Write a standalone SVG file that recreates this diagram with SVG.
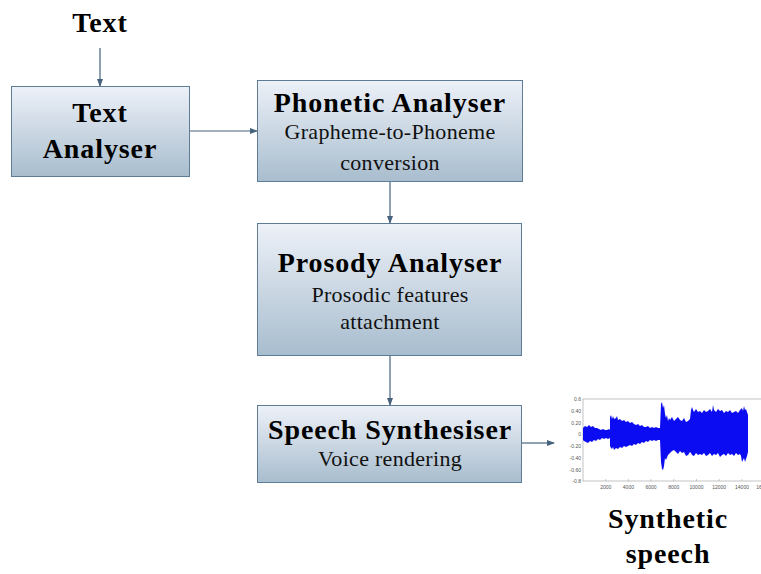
<svg xmlns="http://www.w3.org/2000/svg" width="761" height="574" viewBox="0 0 761 574">
<defs>
<linearGradient id="boxg" x1="0" y1="0" x2="0" y2="1">
<stop offset="0" stop-color="#edf1f8"/>
<stop offset="1" stop-color="#a8bdce"/>
</linearGradient>
<marker id="ah" markerWidth="8" markerHeight="6" refX="7" refY="3" orient="auto" markerUnits="userSpaceOnUse">
<path d="M0,0 L8,3 L0,6 Z" fill="#46637d"/>
</marker>
</defs>
<style>
.box{fill:url(#boxg);stroke:#5f7c96;stroke-width:1}
.t{font-family:"Liberation Serif","Times New Roman",serif;font-weight:bold;font-size:28px;fill:#000;text-anchor:middle;letter-spacing:0.9px}
.s{font-family:"Liberation Serif","Times New Roman",serif;font-size:22px;fill:#111;text-anchor:middle;letter-spacing:0.3px}
.c{stroke:#46637d;stroke-width:1.2;fill:none;marker-end:url(#ah)}
.ax{font-family:"Liberation Sans",Arial,sans-serif;font-size:5px;fill:#555}
</style>
<rect width="761" height="574" fill="#fff"/>
<text class="t" x="100" y="32">Text</text>
<g id="connectors">
<line class="c" x1="100" y1="48" x2="100" y2="86"/>
<line class="c" x1="190" y1="131" x2="257" y2="131"/>
<line class="c" x1="390" y1="182" x2="390" y2="223"/>
<line class="c" x1="390" y1="356" x2="390" y2="405"/>
<line class="c" x1="522" y1="443" x2="554" y2="443"/>
</g>
<g id="text-analyser">
<rect class="box" x="11.5" y="86.5" width="178" height="90"/>
<text class="t" x="100" y="122">Text</text>
<text class="t" x="100" y="158">Analyser</text>
</g>
<g id="phonetic-analyser">
<rect class="box" x="257.5" y="80.5" width="265" height="101"/>
<text class="t" x="390" y="112">Phonetic Analyser</text>
<text class="s" x="390" y="139">Grapheme-to-Phoneme</text>
<text class="s" x="390" y="170">conversion</text>
</g>
<g id="prosody-analyser">
<rect class="box" x="257.5" y="223.5" width="264" height="132"/>
<text class="t" x="390" y="272">Prosody Analyser</text>
<text class="s" x="390" y="302">Prosodic features</text>
<text class="s" x="390" y="329">attachment</text>
</g>
<g id="speech-synthesiser">
<rect class="box" x="257.5" y="405.5" width="264" height="77"/>
<text class="t" x="390" y="439">Speech Synthesiser</text>
<text class="s" x="390" y="466">Voice rendering</text>
</g>
<g id="waveform">
<rect x="583" y="399" width="180" height="82" fill="none" stroke="#999" stroke-width="0.6"/>
<path fill="#0c0cf2" d="M583,428 L585,426 L587,427 L589,425 L591,427 L593,426 L595,428 L597,428 L599,429 L601,430 L603,429 L605,430 L607,430 L609,429 L610,430 L610,417 L611,415 L612,419 L613,416 L614,419 L616,418 L617,416 L618,420 L620,419 L622,421 L624,420 L626,422 L628,421 L630,423 L632,422 L634,424 L636,425 L638,424 L640,426 L642,425 L644,427 L646,427 L648,426 L650,428 L652,427 L654,428 L656,427 L658,428 L660,428 L661,404 L662,402 L663,408 L664,405 L665,414 L666,418 L667,415 L668,421 L669,418 L670,420 L672,417 L674,421 L676,419 L678,417 L680,420 L682,421 L684,418 L686,422 L688,421 L690,419 L691,410 L692,407 L693,410 L694,412 L696,409 L698,412 L700,411 L702,413 L704,410 L706,412 L708,411 L710,409 L712,412 L713,405 L714,410 L716,412 L718,409 L720,411 L722,410 L724,413 L726,411 L728,412 L730,410 L732,413 L734,412 L736,411 L738,413 L740,410 L742,408 L743,411 L744,406 L745,410 L746,409 L747,412 L748,415 L748,452 L747,456 L746,459 L745,462 L744,458 L743,460 L742,462 L741,456 L740,454 L738,455 L736,453 L734,456 L732,454 L730,455 L728,453 L726,456 L724,454 L722,455 L720,457 L718,453 L716,455 L714,454 L712,456 L710,453 L708,455 L706,456 L704,453 L702,455 L700,454 L698,455 L696,453 L694,456 L692,455 L691,453 L690,452 L688,455 L686,456 L684,452 L682,453 L680,451 L678,454 L676,452 L674,450 L672,451 L670,453 L668,455 L666,460 L665,458 L664,466 L663,470 L662,469 L661,462 L660,440 L658,440 L656,441 L654,440 L652,441 L650,440 L648,442 L646,441 L644,443 L642,442 L640,444 L638,443 L636,445 L634,444 L632,446 L630,445 L628,446 L626,447 L624,446 L622,448 L620,447 L618,449 L616,448 L614,450 L613,447 L612,449 L611,448 L610,446 L610,438 L608,439 L606,438 L604,439 L602,438 L600,440 L598,439 L596,441 L594,440 L592,442 L590,441 L588,443 L586,442 L584,441 L583,440 Z"/>
<g stroke="#999" stroke-width="0.5">
<line x1="605.7" y1="481" x2="605.7" y2="479"/><line x1="628.4" y1="481" x2="628.4" y2="479"/><line x1="651" y1="481" x2="651" y2="479"/><line x1="673.8" y1="481" x2="673.8" y2="479"/><line x1="696.5" y1="481" x2="696.5" y2="479"/><line x1="719.2" y1="481" x2="719.2" y2="479"/><line x1="742" y1="481" x2="742" y2="479"/>
</g>
<g class="ax" text-anchor="end">
<text x="581" y="401">0.6</text><text x="581" y="413">0.40</text><text x="581" y="425">0.20</text><text x="581" y="436">0</text><text x="581" y="448">-0.20</text><text x="581" y="460">-0.40</text><text x="581" y="472">-0.60</text><text x="581" y="483">-0.8</text>
</g>
<g class="ax" text-anchor="middle">
<text x="605.7" y="489">2000</text><text x="628.4" y="489">4000</text><text x="651" y="489">6000</text><text x="673.8" y="489">8000</text><text x="696.5" y="489">10000</text><text x="719.2" y="489">12000</text><text x="742" y="489">14000</text><text x="759" y="489">16</text>
</g>
</g>
<g id="synthetic-speech">
<text class="t" x="668" y="528">Synthetic</text>
<text class="t" x="668" y="563">speech</text>
</g>
</svg>
